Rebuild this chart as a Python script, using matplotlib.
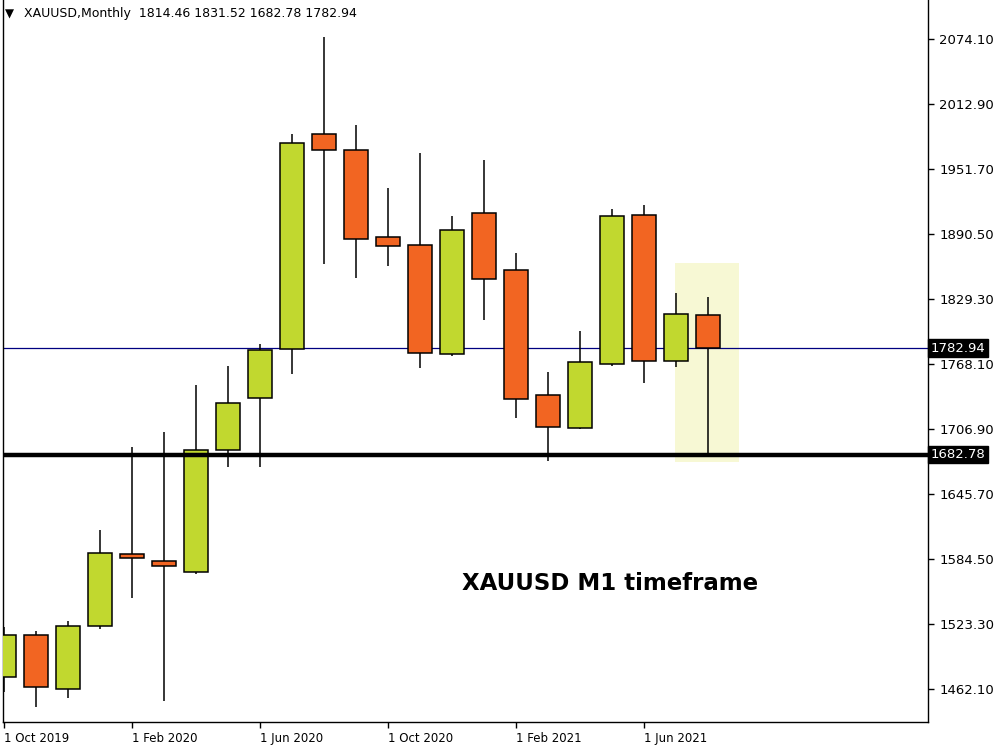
import matplotlib.pyplot as plt
from matplotlib.patches import Rectangle
from matplotlib.transforms import blended_transform_factory

# monthly XAUUSD candles, Oct 2019 .. Aug 2021
months = ['Oct 2019', 'Nov 2019', 'Dec 2019', 'Jan 2020', 'Feb 2020', 'Mar 2020',
          'Apr 2020', 'May 2020', 'Jun 2020', 'Jul 2020', 'Aug 2020', 'Sep 2020',
          'Oct 2020', 'Nov 2020', 'Dec 2020', 'Jan 2021', 'Feb 2021', 'Mar 2021',
          'Apr 2021', 'May 2021', 'Jun 2021', 'Jul 2021', 'Aug 2021']
opens = [1473.1, 1512.9, 1462.4, 1521.1, 1588.9, 1582.3, 1572.0, 1686.8, 1735.8,
         1781.9, 1984.4, 1969.3, 1887.4, 1879.8, 1777.2, 1910.0, 1856.3, 1738.6,
         1707.6, 1767.8, 1908.1, 1770.6, 1814.46]
highs = [1520.8, 1516.7, 1526.1, 1611.8, 1689.7, 1704.1, 1748.3, 1766.2, 1786.9,
         1984.7, 2076.0, 1992.8, 1933.5, 1966.5, 1907.5, 1960.2, 1872.3, 1760.6,
         1799.2, 1914.0, 1917.8, 1835.0, 1831.52]
lows = [1459.6, 1445.4, 1453.9, 1518.9, 1547.5, 1451.1, 1570.0, 1670.8, 1670.8,
        1758.4, 1862.5, 1849.4, 1860.7, 1764.6, 1775.9, 1809.5, 1717.5, 1677.1,
        1706.6, 1766.5, 1750.5, 1765.6, 1682.78]
closes = [1512.9, 1464.3, 1521.4, 1589.9, 1585.2, 1577.6, 1686.8, 1731.1, 1781.0,
          1975.9, 1969.3, 1885.5, 1879.2, 1778.2, 1894.0, 1847.8, 1734.9, 1708.5,
          1769.7, 1907.2, 1770.6, 1814.9, 1782.94]

x_labels = ['1 Oct 2019', '1 Feb 2020', '1 Jun 2020', '1 Oct 2020', '1 Feb 2021', '1 Jun 2021']
x_label_pos = [0, 4, 8, 12, 16, 20]
price_ticks = [1462.10, 1523.30, 1584.50, 1645.70, 1706.90, 1768.10,
               1829.30, 1890.50, 1951.70, 2012.90, 2074.10]
last_close = 1782.94
support = 1682.78
# highlight zone: from the Jul 2021 candle centre to one bar past Aug 2021
box_left, box_right = 20.97, 22.97
box_low, box_high = 1676.1, 1863.5

bull = '#c1d82f'
bear = '#f26522'

fig = plt.figure(figsize=(10, 7.5), dpi=100)
ax = fig.add_axes([0.003, 28 / 750, 0.925, 722 / 750])

ax.add_patch(Rectangle((box_left, box_low), box_right - box_left, box_high - box_low,
                       facecolor='#f7f8d4', edgecolor='none', zorder=0))

idx = list(range(len(months)))
ax.vlines(idx, lows, highs, color='black', linewidth=1.1, zorder=2)
for i in idx:
    o, c = opens[i], closes[i]
    col = bull if c >= o else bear
    ax.bar(i, abs(c - o), bottom=min(o, c), width=0.72, color=col,
           edgecolor='black', linewidth=1.1, zorder=3)

ax.axhline(last_close, color='#000080', linewidth=0.9, zorder=1)
ax.axhline(support, color='black', linewidth=3.2, zorder=4)

ax.set_xlim(-0.031, 28.875)
ax.set_ylim(1431.03, 2110.82)

ax.yaxis.tick_right()
ax.set_yticks(price_ticks)
ax.set_yticklabels(['%.2f' % p for p in price_ticks], fontsize=9.5)
ax.tick_params(axis='y', direction='out', length=4, width=1, pad=4, colors='black')
ax.set_xticks(x_label_pos)
ax.set_xticklabels(x_labels, fontsize=8.5, ha='left')
ax.tick_params(axis='x', direction='out', length=4, width=1, pad=3)

ax.spines['top'].set_visible(False)
for s in ['left', 'right', 'bottom']:
    ax.spines[s].set_linewidth(1)
    ax.spines[s].set_color('black')

tr = blended_transform_factory(ax.transAxes, ax.transData)
for val in [last_close, support]:
    ax.text(1.003, val, '%.2f' % val, transform=tr, fontsize=9.5, color='white',
            va='center', ha='left', zorder=10, clip_on=False,
            bbox=dict(boxstyle='square,pad=0.18', facecolor='black', edgecolor='black'))

fig.text(0.005, 1 - 14 / 750, '\u25bc', fontsize=8.5, va='center', ha='left')
fig.text(0.024, 1 - 14 / 750, 'XAUUSD,Monthly  1814.46 1831.52 1682.78 1782.94',
         fontsize=9, va='center', ha='left')

ax.text(18.94, 1561.9, 'XAUUSD M1 timeframe', fontsize=16.5, fontweight='bold',
        ha='center', va='center', zorder=6)

fig.savefig('out.png', dpi=100)
